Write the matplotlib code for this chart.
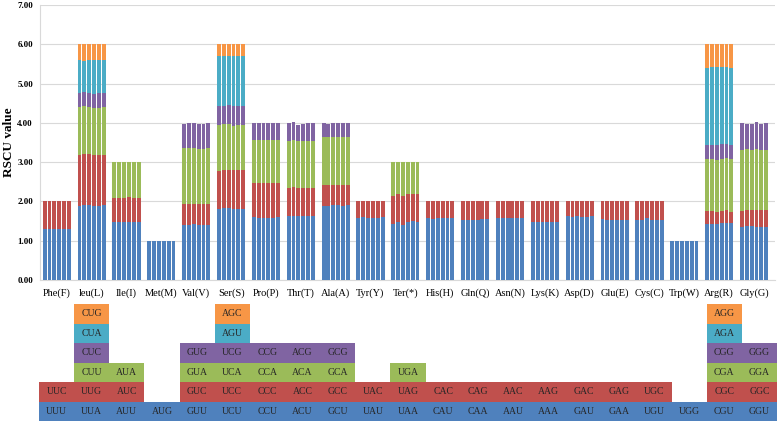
import matplotlib
matplotlib.use("Agg")
import matplotlib.pyplot as plt
from matplotlib.patches import Rectangle
import numpy as np

plt.rcParams["font.family"] = ["Liberation Serif", "DejaVu Serif"]

# ── Data ───────────────────────────────────────────────────
amino_acids = ["Phe(F)", "leu(L)", "Ile(I)", "Met(M)", "Val(V)", "Ser(S)", "Pro(P)",
               "Thr(T)", "Ala(A)", "Tyr(Y)", "Ter(*)", "His(H)", "Gln(Q)", "Asn(N)",
               "Lys(K)", "Asp(D)", "Glu(E)", "Cys(C)", "Trp(W)", "Arg(R)", "Gly(G)"]

codons = [
    ["UUU", "UUC"],
    ["UUA", "UUG", "CUU", "CUC", "CUA", "CUG"],
    ["AUU", "AUC", "AUA"],
    ["AUG"],
    ["GUU", "GUC", "GUA", "GUG"],
    ["UCU", "UCC", "UCA", "UCG", "AGU", "AGC"],
    ["CCU", "CCC", "CCA", "CCG"],
    ["ACU", "ACC", "ACA", "ACG"],
    ["GCU", "GCC", "GCA", "GCG"],
    ["UAU", "UAC"],
    ["UAA", "UAG", "UGA"],
    ["CAU", "CAC"],
    ["CAA", "CAG"],
    ["AAU", "AAC"],
    ["AAA", "AAG"],
    ["GAU", "GAC"],
    ["GAA", "GAG"],
    ["UGU", "UGC"],
    ["UGG"],
    ["CGU", "CGC", "CGA", "CGG", "AGA", "AGG"],
    ["GGU", "GGC", "GGA", "GGG"],
]

# RSCU per codon (rows) for the six samples (columns)
phe = [[1.31, 1.31, 1.29, 1.31, 1.31, 1.31],
       [0.69, 0.69, 0.71, 0.69, 0.69, 0.69]]
leu = [[1.88, 1.90, 1.90, 1.88, 1.88, 1.91],
       [1.29, 1.30, 1.30, 1.29, 1.30, 1.28],
       [1.23, 1.22, 1.21, 1.22, 1.21, 1.22],
       [0.35, 0.36, 0.34, 0.35, 0.37, 0.36],
       [0.85, 0.80, 0.84, 0.85, 0.83, 0.82],
       [0.40, 0.42, 0.41, 0.41, 0.41, 0.41]]
ile = [[1.48, 1.47, 1.47, 1.47, 1.48, 1.48],
       [0.62, 0.63, 0.63, 0.64, 0.62, 0.62],
       [0.90, 0.90, 0.90, 0.89, 0.90, 0.90]]
met = [[1.00, 1.00, 1.00, 1.00, 1.00, 1.00]]
val = [[1.41, 1.40, 1.42, 1.39, 1.40, 1.41],
       [0.52, 0.53, 0.51, 0.54, 0.53, 0.52],
       [1.42, 1.42, 1.42, 1.40, 1.41, 1.42],
       [0.63, 0.65, 0.65, 0.65, 0.64, 0.65]]
ser = [[1.82, 1.83, 1.84, 1.81, 1.81, 1.82],
       [0.96, 0.96, 0.97, 0.98, 0.98, 0.97],
       [1.17, 1.17, 1.16, 1.14, 1.15, 1.16],
       [0.48, 0.48, 0.49, 0.49, 0.48, 0.48],
       [1.27, 1.27, 1.25, 1.28, 1.28, 1.28],
       [0.30, 0.29, 0.29, 0.30, 0.30, 0.29]]
pro = [[1.60, 1.58, 1.58, 1.58, 1.58, 1.60],
       [0.87, 0.89, 0.90, 0.89, 0.89, 0.87],
       [1.10, 1.10, 1.09, 1.10, 1.10, 1.10],
       [0.43, 0.43, 0.43, 0.43, 0.43, 0.43]]
thr = [[1.62, 1.62, 1.62, 1.62, 1.63, 1.64],
       [0.73, 0.74, 0.73, 0.73, 0.71, 0.70],
       [1.20, 1.20, 1.20, 1.19, 1.21, 1.21],
       [0.45, 0.46, 0.40, 0.43, 0.45, 0.45]]
ala = [[1.88, 1.89, 1.90, 1.90, 1.89, 1.90],
       [0.53, 0.53, 0.52, 0.52, 0.53, 0.52],
       [1.22, 1.22, 1.22, 1.22, 1.22, 1.22],
       [0.37, 0.34, 0.36, 0.36, 0.36, 0.36]]
tyr = [[1.57, 1.60, 1.58, 1.57, 1.58, 1.60],
       [0.43, 0.40, 0.42, 0.43, 0.42, 0.40]]
ter = [[1.42, 1.47, 1.40, 1.47, 1.50, 1.47],
       [0.73, 0.72, 0.74, 0.73, 0.70, 0.73],
       [0.85, 0.81, 0.86, 0.80, 0.80, 0.80]]
his = [[1.57, 1.55, 1.58, 1.58, 1.57, 1.58],
       [0.43, 0.45, 0.42, 0.42, 0.43, 0.42]]
gln = [[1.53, 1.53, 1.53, 1.54, 1.55, 1.55],
       [0.47, 0.47, 0.47, 0.46, 0.45, 0.45]]
asn = [[1.58, 1.58, 1.59, 1.58, 1.58, 1.58],
       [0.42, 0.42, 0.41, 0.42, 0.42, 0.42]]
lys = [[1.48, 1.47, 1.47, 1.47, 1.47, 1.47],
       [0.52, 0.53, 0.53, 0.53, 0.53, 0.53]]
asp = [[1.62, 1.61, 1.62, 1.61, 1.61, 1.62],
       [0.38, 0.39, 0.38, 0.39, 0.39, 0.38]]
glu = [[1.55, 1.53, 1.53, 1.52, 1.52, 1.52],
       [0.45, 0.47, 0.47, 0.48, 0.48, 0.48]]
cys = [[1.52, 1.54, 1.57, 1.53, 1.53, 1.52],
       [0.48, 0.46, 0.43, 0.47, 0.47, 0.48]]
trp = [[1.00, 1.00, 1.00, 1.00, 1.00, 1.00]]
arg = [[1.42, 1.43, 1.42, 1.44, 1.45, 1.45],
       [0.33, 0.32, 0.32, 0.32, 0.33, 0.29],
       [1.33, 1.32, 1.31, 1.33, 1.32, 1.33],
       [0.36, 0.37, 0.38, 0.37, 0.37, 0.36],
       [1.96, 1.98, 1.99, 1.96, 1.94, 1.96],
       [0.60, 0.58, 0.58, 0.58, 0.59, 0.61]]
gly = [[1.36, 1.37, 1.37, 1.36, 1.35, 1.35],
       [0.40, 0.41, 0.42, 0.41, 0.42, 0.42],
       [1.56, 1.56, 1.52, 1.57, 1.54, 1.55],
       [0.68, 0.63, 0.67, 0.68, 0.66, 0.68]]

rscu = [phe, leu, ile, met, val, ser, pro, thr, ala, tyr, ter,
        his, gln, asn, lys, asp, glu, cys, trp, arg, gly]

colors = ["#4F81BD", "#C0504D", "#9BBB59", "#8064A2", "#4BACC6", "#F79646"]

# ── Figure ─────────────────────────────────────────────────
W, H = 777, 422
fig = plt.figure(figsize=(W / 100, H / 100), dpi=100)

ax = fig.add_axes([40 / W, 1 - 280 / H, 735 / W, 275 / H])
slot = 0.139
offsets = (np.arange(6) - 2.5) * slot
for i, group in enumerate(rscu):
    bottom = np.zeros(6)
    for k, vals in enumerate(group):
        vals = np.array(vals)
        ax.bar(i + offsets, vals, width=0.112, bottom=bottom,
               color=colors[k], linewidth=0, zorder=3)
        bottom += vals

ax.set_xlim(-0.48, 20.6)
ax.set_ylim(0, 7)
ax.set_yticks(np.arange(0, 8))
ax.set_yticklabels([f"{v:.2f}" for v in range(8)], fontsize=6.5, fontweight="bold")
ax.set_xticks(range(len(amino_acids)))
ax.set_xticklabels(amino_acids, fontsize=7.5)
ax.tick_params(axis="both", length=0)
ax.tick_params(axis="x", pad=6)
ax.tick_params(axis="y", pad=5)
ax.grid(axis="y", color="#d9d9d9", linewidth=0.8, zorder=0)
for s in ["top", "right"]:
    ax.spines[s].set_visible(False)
for s in ["left", "bottom"]:
    ax.spines[s].set_color("#d9d9d9")
ax.set_ylabel("RSCU value", fontsize=9.5, fontweight="bold")
ax.yaxis.set_label_coords(-25 / 735, 0.5)

# ── Codon table ────────────────────────────────────────────
tab = fig.add_axes([39 / W, 1 - 421 / H, 738 / W, 117 / H])
tab.set_xlim(-0.5, 20.5)
tab.set_ylim(0, 6)
tab.axis("off")
for i, names in enumerate(codons):
    for k, name in enumerate(names):
        tab.add_patch(Rectangle((i - 0.5, k), 1, 1, facecolor=colors[k],
                                edgecolor="none"))
        tab.text(i, k + 0.5, name, ha="center", va="center",
                 fontsize=7, color="#262626")

fig.savefig("out.png", dpi=100)
